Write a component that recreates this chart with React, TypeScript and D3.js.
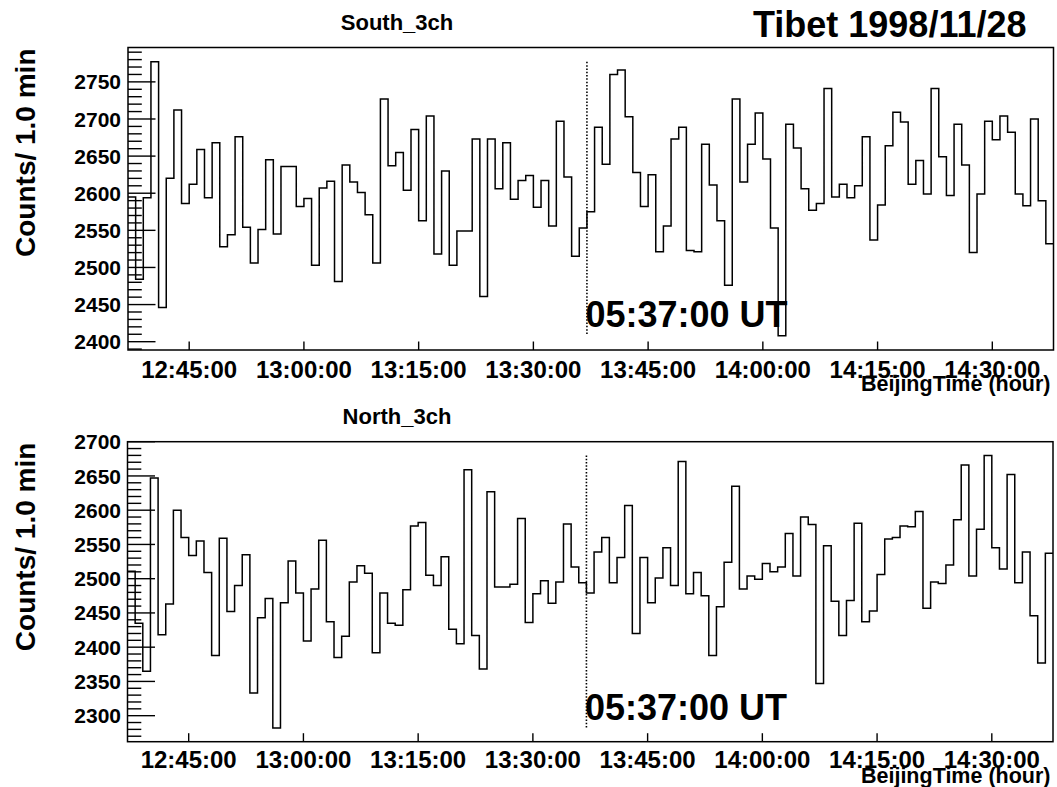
import React from 'react';
import * as d3 from 'd3';

// ---------- data (counts per 1-minute bin, 12:37 .. 14:38 Beijing time) ----------
const southValues = [
  2595, 2484, 2594, 2777, 2446, 2620, 2712, 2586, 2612, 2659,
  2594, 2668, 2528, 2544, 2676, 2554, 2506, 2551, 2645, 2545,
  2636, 2636, 2582, 2593, 2503, 2607, 2616, 2481, 2638, 2615,
  2601, 2571, 2506, 2727, 2637, 2655, 2604, 2686, 2563, 2704,
  2518, 2630, 2503, 2549, 2549, 2673, 2461, 2673, 2606, 2668,
  2592, 2617, 2624, 2581, 2617, 2556, 2697, 2622, 2515, 2553,
  2575, 2689, 2639, 2760, 2766, 2703, 2628, 2582, 2625, 2521,
  2556, 2673, 2689, 2523, 2521, 2666, 2611, 2563, 2476, 2727,
  2615, 2666, 2708, 2646, 2553, 2408, 2693, 2661, 2606, 2577,
  2586, 2741, 2595, 2612, 2594, 2610, 2676, 2537, 2584, 2664,
  2709, 2696, 2612, 2644, 2599, 2741, 2649, 2597, 2693, 2638,
  2520, 2599, 2697, 2672, 2704, 2682, 2599, 2583, 2700, 2590,
  2532,
];

const northValues = [
  2511, 2435, 2365, 2647, 2418, 2463, 2600, 2560, 2534, 2555,
  2509, 2388, 2559, 2452, 2490, 2535, 2333, 2443, 2471, 2282,
  2465, 2526, 2479, 2409, 2485, 2556, 2437, 2385, 2416, 2495,
  2519, 2508, 2392, 2479, 2435, 2432, 2484, 2577, 2582, 2505,
  2490, 2532, 2426, 2405, 2659, 2417, 2368, 2627, 2488, 2488,
  2492, 2588, 2436, 2478, 2497, 2464, 2495, 2580, 2517, 2494,
  2479, 2539, 2560, 2494, 2531, 2607, 2420, 2531, 2465, 2501,
  2545, 2490, 2671, 2478, 2509, 2475, 2388, 2459, 2524, 2635,
  2485, 2504, 2499, 2522, 2510, 2517, 2566, 2504, 2590, 2579,
  2347, 2548, 2467, 2417, 2468, 2581, 2437, 2453, 2506, 2558,
  2560, 2577, 2576, 2598, 2457, 2495, 2493, 2520, 2586, 2666,
  2504, 2572, 2680, 2545, 2514, 2652, 2494, 2539, 2446, 2377,
  2537,
];

const southYTicks = [2400, 2450, 2500, 2550, 2600, 2650, 2700, 2750];
const northYTicks = [2300, 2350, 2400, 2450, 2500, 2550, 2600, 2650, 2700];
const southYDomain = [2388.8, 2796.3];
const northYDomain = [2262, 2700];

const startTime = new Date(1998, 10, 28, 12, 37, 0);
const markerTime = new Date(1998, 10, 28, 13, 37, 0);
const markerLabel = '05:37:00 UT';
const mainTitle = 'Tibet 1998/11/28';
const southTitle = 'South_3ch';
const northTitle = 'North_3ch';
const yTitle = 'Counts/ 1.0 min';
const xTitle = 'BeijingTime (hour)';

const FONT = "'Liberation Sans', Arial, Helvetica, sans-serif";
const W = 1057;
const H = 787;

type PanelProps = {
  values: number[];
  yDomain: number[];
  yTicks: number[];
  title: string;
  frame: { left: number; right: number; top: number; bottom: number };
  titleY: number;
  xLabelY: number;
  xTitleY: number;
  markerY: number;
};

function Panel({ values, yDomain, yTicks, title, frame, titleY, xLabelY, xTitleY, markerY }: PanelProps) {
  const n = values.length;
  const endTime = d3.timeMinute.offset(startTime, n);
  const x = d3.scaleTime().domain([startTime, endTime]).range([frame.left, frame.right]);
  const y = d3.scaleLinear().domain(yDomain).range([frame.bottom, frame.top]);

  const pts: [number, number][] = values.map((v, i) => [x(d3.timeMinute.offset(startTime, i)), y(v)]);
  pts.push([x(endTime), y(values[n - 1])]);
  const line = d3.line().curve(d3.curveStepAfter);
  const path = line(pts) || '';

  const minorTicks = d3
    .range(Math.ceil(yDomain[0] / 10) * 10, yDomain[1], 10)
    .filter((t) => t % 50 !== 0);

  const xTicks = x.ticks(d3.timeMinute.every(15) as any);
  const fmt = d3.timeFormat('%H:%M:%S');

  const majorLen = 27.5;
  const minorLen = 13.8;
  const xTickLen = 8.5;

  const mx = x(markerTime);
  const vmin = d3.min(values) as number;
  const vmax = d3.max(values) as number;

  return (
    <g>
      <text x={397} y={titleY} textAnchor="middle" fontFamily={FONT} fontWeight="bold" fontSize={22}>
        {title}
      </text>
      {/* histogram */}
      <path d={path} fill="none" stroke="#000" strokeWidth={1.5} />
      {/* y ticks */}
      {yTicks.map((t) => (
        <g key={'M' + t}>
          <line x1={frame.left} x2={frame.left + majorLen} y1={y(t)} y2={y(t)} stroke="#000" strokeWidth={1.4} />
          <text x={121} y={y(t)} dy="0.36em" textAnchor="end" fontFamily={FONT} fontWeight="bold" fontSize={21}>
            {t}
          </text>
        </g>
      ))}
      {minorTicks.map((t) => (
        <line key={'m' + t} x1={frame.left} x2={frame.left + minorLen} y1={y(t)} y2={y(t)} stroke="#000" strokeWidth={1.4} />
      ))}
      {/* x ticks */}
      {xTicks.map((t, i) => (
        <g key={'x' + i}>
          <line x1={x(t)} x2={x(t)} y1={frame.bottom} y2={frame.bottom - xTickLen} stroke="#000" strokeWidth={1.4} />
          <text x={x(t)} y={xLabelY} textAnchor="middle" fontFamily={FONT} fontWeight="bold" fontSize={24}>
            {fmt(t)}
          </text>
        </g>
      ))}
      {/* frame */}
      <rect
        x={frame.left}
        y={frame.top}
        width={frame.right - frame.left}
        height={frame.bottom - frame.top}
        fill="none"
        stroke="#000"
        strokeWidth={1.5}
      />
      {/* marker line */}
      <line x1={mx} x2={mx} y1={y(vmax)} y2={y(vmin)} stroke="#000" strokeWidth={1.6} strokeDasharray="1.5,1.8" />
      <text x={mx - 1.5} y={markerY} fontFamily={FONT} fontWeight="bold" fontSize={36}>
        {markerLabel}
      </text>
      {/* axis titles */}
      <text
        transform={`translate(35,${frame.top + 1}) rotate(-90)`}
        textAnchor="end"
        fontFamily={FONT}
        fontWeight="bold"
        fontSize={28}
      >
        {yTitle}
      </text>
      <text x={1050.5} y={xTitleY} textAnchor="end" fontFamily={FONT} fontWeight="bold" fontSize={21.5}>
        {xTitle}
      </text>
    </g>
  );
}

export default function App() {
  return (
    <svg
      width={W}
      height={H}
      viewBox={`0 0 ${W} ${H}`}
      style={{ position: 'absolute', left: 0, top: 0, background: '#fff' }}
    >
      <rect x={0} y={0} width={W} height={H} fill="#fff" />
      <text x={1026.5} y={36.5} textAnchor="end" fontFamily={FONT} fontWeight="bold" fontSize={36}>
        {mainTitle}
      </text>
      <Panel
        values={southValues}
        yDomain={southYDomain}
        yTicks={southYTicks}
        title={southTitle}
        frame={{ left: 128, right: 1053.5, top: 47.5, bottom: 350 }}
        titleY={30}
        xLabelY={377.5}
        xTitleY={391}
        markerY={327}
      />
      <Panel
        values={northValues}
        yDomain={northYDomain}
        yTicks={northYTicks}
        title={northTitle}
        frame={{ left: 127.5, right: 1053, top: 441.7, bottom: 741.7 }}
        titleY={423.5}
        xLabelY={767.5}
        xTitleY={782.5}
        markerY={719.5}
      />
    </svg>
  );
}
